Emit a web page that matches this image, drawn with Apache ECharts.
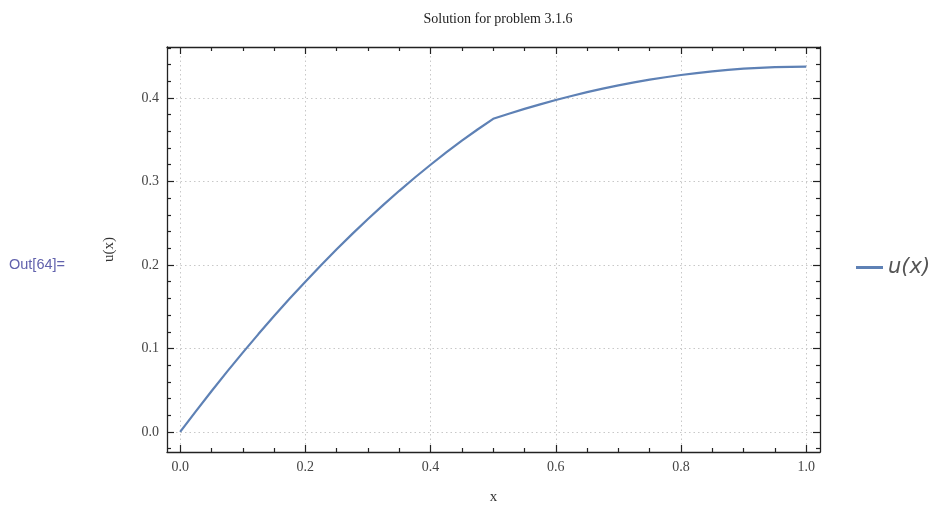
<!DOCTYPE html>
<html><head><meta charset="utf-8">
<script src="https://cdn.jsdelivr.net/npm/echarts@6/dist/echarts.min.js"></script>
<style>html,body{margin:0;padding:0;background:#fff}#c{width:950px;height:514px}</style>
</head><body><div id="c"></div>
<script>
const xValues = [0, 0.025, 0.05, 0.075, 0.1, 0.125, 0.15, 0.175, 0.2, 0.225, 0.25, 0.275, 0.3, 0.325, 0.35, 0.375, 0.4, 0.425, 0.45, 0.475, 0.5,
  0.525, 0.55, 0.575, 0.6, 0.625, 0.65, 0.675, 0.7, 0.725, 0.75, 0.775, 0.8, 0.825, 0.85, 0.875, 0.9, 0.925, 0.95, 0.975, 1.0];
const uValues = [0, 0.0247, 0.0488, 0.0722, 0.095, 0.1172, 0.1388, 0.1597, 0.18, 0.1997, 0.2188, 0.2372, 0.255, 0.2722, 0.2888, 0.3047, 0.32, 0.3347, 0.3488, 0.3622, 0.375,
  0.3811, 0.3869, 0.3923, 0.3975, 0.4023, 0.4069, 0.4111, 0.415, 0.4186, 0.4219, 0.4248, 0.4275, 0.4298, 0.4319, 0.4336, 0.435, 0.4361, 0.4369, 0.4373, 0.4375];
const xMajor = [0, 0.2, 0.4, 0.6, 0.8, 1.0];
const xMinor = [0.05, 0.1, 0.15, 0.25, 0.3, 0.35, 0.45, 0.5, 0.55, 0.65, 0.7, 0.75, 0.85, 0.9, 0.95];
const yMajor = [0, 0.1, 0.2, 0.3, 0.4];
const yMinor = [-0.02, 0.02, 0.04, 0.06, 0.08, 0.12, 0.14, 0.16, 0.18, 0.22, 0.24, 0.26, 0.28, 0.32, 0.34, 0.36, 0.38, 0.42, 0.44, 0.46];
const titleText = 'Solution for problem 3.1.6';
const legendText = 'u(x)';

const X_MIN = -0.021, X_MAX = 1.022, Y_MIN = -0.024, Y_MAX = 0.461;
const serif = '"Liberation Serif", "DejaVu Serif", serif';
const lineColor = '#5E81B5';
const fmt = v => v.toFixed(1);

function xAx(pos, ticks, len, labels, line, split) {
  return {
    type: 'value', position: pos, min: X_MIN, max: X_MAX, gridIndex: 0,
    axisLine: { show: line, onZero: false, lineStyle: { color: '#222', width: 1.3 } },
    axisTick: { show: true, inside: true, length: len, customValues: ticks, lineStyle: { color: '#222', width: 1.2 } },
    axisLabel: { show: labels, customValues: ticks, formatter: fmt, fontFamily: serif, fontSize: 14, color: '#444', margin: 8 },
    splitLine: { show: split, lineStyle: { color: '#c8c8c8', type: [1.5, 3], width: 1 } },
    minorTick: { show: false }, minorSplitLine: { show: false }
  };
}
function yAx(pos, ticks, len, labels, line, split) {
  return {
    type: 'value', position: pos, min: Y_MIN, max: Y_MAX, gridIndex: 0,
    axisLine: { show: line, onZero: false, lineStyle: { color: '#222', width: 1.3 } },
    axisTick: { show: true, inside: true, length: len, customValues: ticks, lineStyle: { color: '#222', width: 1.2 } },
    axisLabel: { show: labels, customValues: ticks, formatter: fmt, fontFamily: serif, fontSize: 14, color: '#444', margin: 8 },
    splitLine: { show: split, lineStyle: { color: '#c8c8c8', type: [1.5, 3], width: 1 } },
    minorTick: { show: false }, minorSplitLine: { show: false }
  };
}

const chart = echarts.init(document.getElementById('c'), null, { renderer: 'canvas' });
chart.setOption({
  animation: false,
  backgroundColor: '#fff',
  title: { text: titleText, left: 493, top: 7, textAlign: 'center',
    textStyle: { fontFamily: serif, fontSize: 14, fontWeight: 'normal', color: '#222' } },
  grid: { left: 167, right: 130, top: 47, bottom: 62, containLabel: false },
  xAxis: [
    Object.assign(xAx('bottom', xMajor, 7, true, true, true), { name: 'x', nameLocation: 'middle', nameGap: 38,
      nameTextStyle: { fontFamily: serif, fontSize: 15, color: '#333' } }),
    xAx('bottom', xMinor, 4, false, false, false),
    xAx('top', xMajor, 7, false, true, false),
    xAx('top', xMinor, 4, false, false, false)
  ],
  yAxis: [
    Object.assign(yAx('left', yMajor, 7, true, true, true), { name: 'u(x)', nameLocation: 'middle', nameGap: 50,
      nameTextStyle: { fontFamily: serif, fontSize: 15, color: '#333' } }),
    yAx('left', yMinor, 4, false, false, false),
    yAx('right', yMajor, 7, false, true, false),
    yAx('right', yMinor, 4, false, false, false)
  ],
  legend: { show: true, orient: 'vertical', left: 851, top: 252, itemWidth: 27, itemHeight: 3, itemGap: 6,
    icon: 'rect',
    textStyle: { fontFamily: '"DejaVu Sans", sans-serif', fontStyle: 'italic', fontSize: 21, color: '#555' },
    data: [{ name: legendText, icon: 'rect' }] },
  graphic: [
    { type: 'text', left: 9, top: 257, style: { text: 'Out[64]=', fontFamily: '"Liberation Sans", "DejaVu Sans", sans-serif', fontSize: 14.5, fill: '#6262ad' } }
  ],
  series: [{
    name: legendText, type: 'line', xAxisIndex: 0, yAxisIndex: 0,
    data: xValues.map((x, i) => [x, uValues[i]]),
    showSymbol: false, smooth: false,
    lineStyle: { color: lineColor, width: 2.2 }, itemStyle: { color: lineColor }
  }]
});
</script></body></html>
